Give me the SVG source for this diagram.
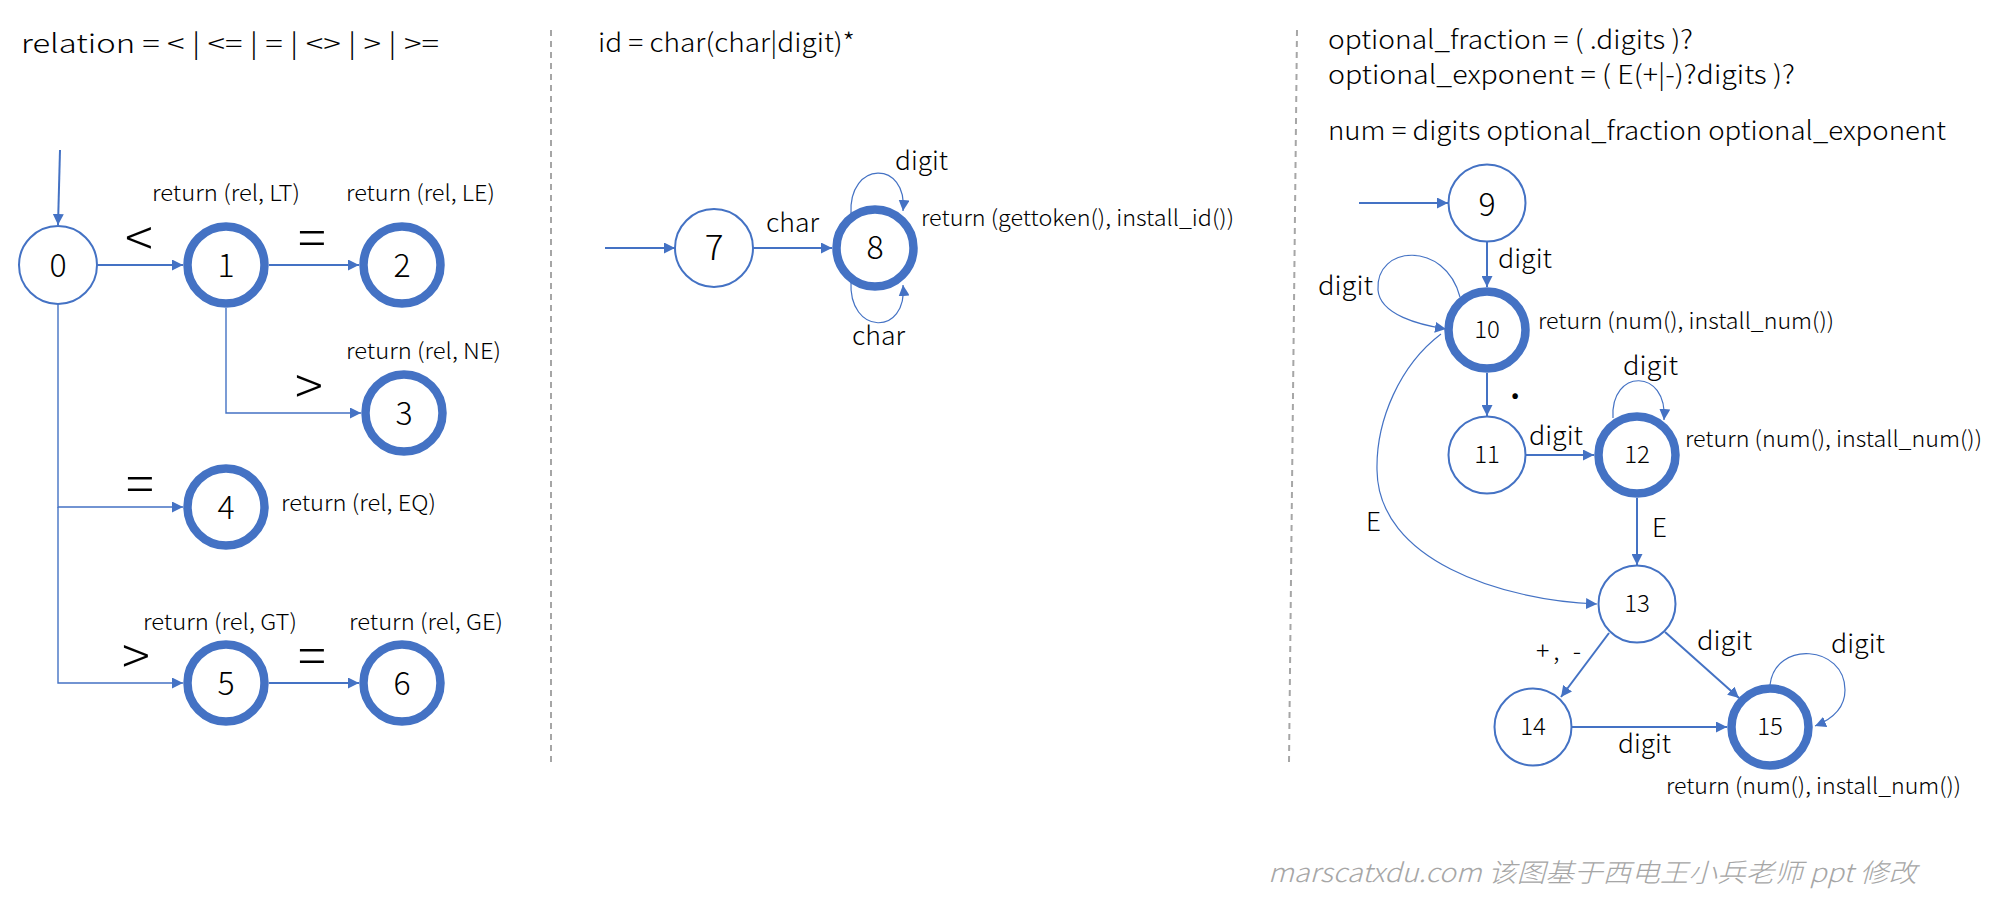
<svg xmlns="http://www.w3.org/2000/svg" width="1991" height="903" viewBox="0 0 1991 903">
<style>
text{font-family:"Noto Sans CJK SC","Noto Sans",sans-serif;fill:#000;font-weight:300}
.h{font-size:26px}
.r{font-size:22px}
.l{font-size:26px}
.big{font-size:52px}
.n{font-size:32px;text-anchor:middle}
.s{font-size:24px;text-anchor:middle}
.thin{fill:#fff;stroke:#4472C4;stroke-width:2}
.thick{fill:#fff;stroke:#4472C4;stroke-width:8.5}
.e{fill:none;stroke:#4472C4;stroke-width:2;marker-end:url(#a)}
.et{fill:none;stroke:#4472C4;stroke-width:1.4;marker-end:url(#a)}
.lp{fill:none;stroke:#4472C4;stroke-width:1.2;marker-end:url(#a)}
.div{stroke:#A6A6A6;stroke-width:2;stroke-dasharray:6 5;fill:none}
.wm{font-size:26px;font-style:italic;fill:#A6A6A6}
</style>
<defs>
<marker id="a" markerUnits="userSpaceOnUse" markerWidth="12" markerHeight="11" refX="11" refY="5.5" orient="auto">
<path d="M0,0 L11,5.5 L0,11 z" fill="#4472C4"/>
</marker>
</defs>
<rect width="1991" height="903" fill="#fff"/>

<g id="dividers">
<line class="div" x1="551" y1="30" x2="551" y2="763"/>
<line class="div" x1="1297" y1="30" x2="1289" y2="763"/>
</g>

<g id="headers">
<text class="h" x="21" y="53" textLength="418" lengthAdjust="spacingAndGlyphs">relation = &lt; | &lt;= | = | &lt;&gt; | &gt; | &gt;=</text>
<text class="h" x="598" y="52" textLength="257" lengthAdjust="spacingAndGlyphs">id = char(char|digit)*</text>
<text class="h" x="1328" y="49" textLength="365" lengthAdjust="spacingAndGlyphs">optional_fraction = ( .digits )?</text>
<text class="h" x="1328" y="84" textLength="467" lengthAdjust="spacingAndGlyphs">optional_exponent = ( E(+|-)?digits )?</text>
<text class="h" x="1328" y="140" textLength="618" lengthAdjust="spacingAndGlyphs">num = digits optional_fraction optional_exponent</text>
</g>

<g id="connectors">
<path class="e" d="M60 150 L58 225"/>
<path class="e" d="M97 265 L183 265"/>
<path class="e" d="M269 265 L359 265"/>
<path class="et" d="M226 308 L226 413 L361 413"/>
<path class="et" d="M58 304 L58 507 L183 507"/>
<path class="et" d="M58 507 L58 683 L183 683"/>
<path class="e" d="M269 683 L359 683"/>
<path class="e" d="M605 248 L675 248"/>
<path class="e" d="M753 248 L832 248"/>
<path class="lp" d="M851 214 C848 160, 908 160, 903 211"/>
<path class="lp" d="M851 281 C848 336, 908 336, 903 285"/>
<path class="e" d="M1359 203 L1448 203"/>
<path class="e" d="M1487 242 L1487 287"/>
<path class="lp" d="M1460 297 C1445 240, 1375 245, 1378 290 C1380 315, 1420 325, 1446 329"/>
<path class="e" d="M1487 373 L1487 416"/>
<path class="e" d="M1526 455 L1594 455"/>
<path class="lp" d="M1613 418 C1610 368, 1668 368, 1664 420"/>
<path class="e" d="M1637 498 L1637 565"/>
<path class="lp" d="M1441 334 C1400 365, 1376 420, 1377 470 C1378 560, 1500 600, 1597 604"/>
<path class="e" d="M1609 633 L1561 697"/>
<path class="e" d="M1665 632 L1739 698"/>
<path class="e" d="M1572 727 L1727 727"/>
<path class="lp" d="M1770 685 C1775 640, 1845 645, 1845 690 C1845 710, 1830 720, 1815 726"/>
</g>

<g id="edge-labels">
<text class="big" x="139" y="257" text-anchor="middle">&lt;</text>
<text class="big" x="312" y="257" text-anchor="middle">=</text>
<text class="big" x="309" y="405" text-anchor="middle">&gt;</text>
<text class="big" x="140" y="503" text-anchor="middle">=</text>
<text class="big" x="136" y="675" text-anchor="middle">&gt;</text>
<text class="big" x="312" y="675" text-anchor="middle">=</text>
<text class="l" x="766" y="232" textLength="53" lengthAdjust="spacingAndGlyphs">char</text>
<text class="l" x="895" y="170" textLength="53" lengthAdjust="spacingAndGlyphs">digit</text>
<text class="l" x="852" y="345" textLength="53" lengthAdjust="spacingAndGlyphs">char</text>
<text class="l" x="1498" y="268" textLength="54" lengthAdjust="spacingAndGlyphs">digit</text>
<text class="l" x="1318" y="295" textLength="55" lengthAdjust="spacingAndGlyphs">digit</text>
<text x="1515" y="399" text-anchor="middle" style="font-size:30px;font-weight:700">.</text>
<text class="l" x="1529" y="445" textLength="54" lengthAdjust="spacingAndGlyphs">digit</text>
<text class="l" x="1623" y="375" textLength="55" lengthAdjust="spacingAndGlyphs">digit</text>
<text class="l" x="1652" y="537">E</text>
<text class="l" x="1366" y="531">E</text>
<text x="1536" y="660" style="font-size:25px" textLength="45">+, -</text>
<text class="l" x="1697" y="650" textLength="55" lengthAdjust="spacingAndGlyphs">digit</text>
<text class="l" x="1618" y="753" textLength="53" lengthAdjust="spacingAndGlyphs">digit</text>
<text class="l" x="1831" y="653" textLength="54" lengthAdjust="spacingAndGlyphs">digit</text>
</g>

<g id="node-0"><circle class="thin" cx="58" cy="265" r="39"/><text class="n" x="58" y="277">0</text></g>
<g id="node-1"><circle class="thick" cx="226" cy="265" r="38.5"/><text class="n" x="226" y="277">1</text>
<text class="r" x="152" y="201" textLength="148" lengthAdjust="spacingAndGlyphs">return (rel, LT)</text></g>
<g id="node-2"><circle class="thick" cx="402" cy="265" r="38.5"/><text class="n" x="402" y="277">2</text>
<text class="r" x="346" y="201" textLength="149" lengthAdjust="spacingAndGlyphs">return (rel, LE)</text></g>
<g id="node-3"><circle class="thick" cx="404" cy="413" r="38.5"/><text class="n" x="404" y="425">3</text>
<text class="r" x="346" y="359" textLength="155" lengthAdjust="spacingAndGlyphs">return (rel, NE)</text></g>
<g id="node-4"><circle class="thick" cx="226" cy="507" r="38.5"/><text class="n" x="226" y="519">4</text>
<text class="r" x="281" y="511" textLength="155" lengthAdjust="spacingAndGlyphs">return (rel, EQ)</text></g>
<g id="node-5"><circle class="thick" cx="226" cy="683" r="38.5"/><text class="n" x="226" y="695">5</text>
<text class="r" x="143" y="630" textLength="154" lengthAdjust="spacingAndGlyphs">return (rel, GT)</text></g>
<g id="node-6"><circle class="thick" cx="402" cy="683" r="38.5"/><text class="n" x="402" y="695">6</text>
<text class="r" x="349" y="630" textLength="154" lengthAdjust="spacingAndGlyphs">return (rel, GE)</text></g>

<g id="node-7"><circle class="thin" cx="714" cy="248" r="39"/><text class="n" x="714" y="260" style="font-size:35px">7</text></g>
<g id="node-8"><circle class="thick" cx="875" cy="248" r="38.5"/><text class="n" x="875" y="259">8</text>
<text class="r" x="921" y="226" textLength="313" lengthAdjust="spacingAndGlyphs">return (gettoken(), install_id())</text></g>

<g id="node-9"><circle class="thin" cx="1487" cy="203" r="38.5"/><text class="n" x="1487" y="216">9</text></g>
<g id="node-10"><circle class="thick" cx="1487" cy="330" r="38.5"/><text class="s" x="1487" y="338">10</text>
<text class="r" x="1538" y="329" textLength="296" lengthAdjust="spacingAndGlyphs">return (num(), install_num())</text></g>
<g id="node-11"><circle class="thin" cx="1487" cy="455" r="38.5"/><text class="s" x="1487" y="463">11</text></g>
<g id="node-12"><circle class="thick" cx="1637" cy="455" r="38.5"/><text class="s" x="1637" y="463">12</text>
<text class="r" x="1685" y="447" textLength="297" lengthAdjust="spacingAndGlyphs">return (num(), install_num())</text></g>
<g id="node-13"><circle class="thin" cx="1637" cy="604" r="38.5"/><text class="s" x="1637" y="612">13</text></g>
<g id="node-14"><circle class="thin" cx="1533" cy="727" r="38.5"/><text class="s" x="1533" y="735">14</text></g>
<g id="node-15"><circle class="thick" cx="1770" cy="727" r="38.5"/><text class="s" x="1770" y="735">15</text>
<text class="r" x="1666" y="794" textLength="295" lengthAdjust="spacingAndGlyphs">return (num(), install_num())</text></g>

<text class="wm" x="1268" y="882" textLength="649" lengthAdjust="spacingAndGlyphs">marscatxdu.com 该图基于西电王小兵老师 ppt 修改</text>
</svg>
